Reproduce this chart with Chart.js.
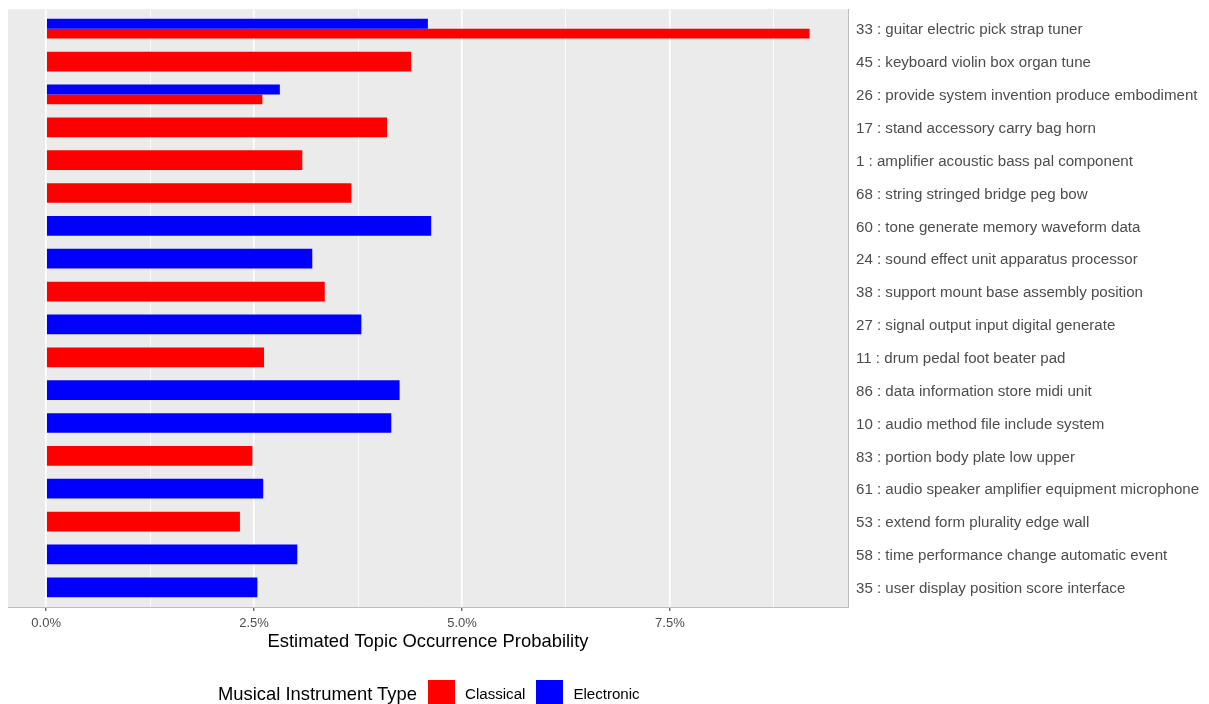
<!DOCTYPE html>
<html>
<head>
<meta charset="utf-8">
<script src="https://cdn.jsdelivr.net/npm/chart.js@4.4.1/dist/chart.umd.min.js"></script>
<style>
  html, body { margin: 0; padding: 0; background: #fff; }
  #wrap { position: relative; width: 1209px; height: 704px; overflow: hidden; }
  #legend {
    position: absolute; left: 218px; top: 680px; height: 27px;
    display: flex; align-items: center;
    font-family: "Liberation Sans", Arial, sans-serif; white-space: nowrap;
  }
  #legend .title { font-size: 18.4px; color: #000; margin-right: 11px; }
  #legend .key { width: 27px; height: 27px; margin-right: 10px; }
  #legend .label { font-size: 15.1px; color: #000; margin-right: 11px; }
</style>
</head>
<body>
<div id="wrap">
  <canvas id="chart" width="1209" height="704"></canvas>
  <div id="legend"></div>
</div>
<script>
const topics = [
  "33 : guitar electric pick strap tuner",
  "45 : keyboard violin box organ tune",
  "26 : provide system invention produce embodiment",
  "17 : stand accessory carry bag horn",
  "1 : amplifier acoustic bass pal component",
  "68 : string stringed bridge peg bow",
  "60 : tone generate memory waveform data",
  "24 : sound effect unit apparatus processor",
  "38 : support mount base assembly position",
  "27 : signal output input digital generate",
  "11 : drum pedal foot beater pad",
  "86 : data information store midi unit",
  "10 : audio method file include system",
  "83 : portion body plate low upper",
  "61 : audio speaker amplifier equipment microphone",
  "53 : extend form plurality edge wall",
  "58 : time performance change automatic event",
  "35 : user display position score interface"
];

// probabilities in percent, null where the topic has no bar for that type
const classical = [9.18, 4.39, 2.60, 4.10, 3.08, 3.67, null, null, 3.35, null, 2.62, null, null, 2.48, null, 2.33, null, null];
const electronic = [4.59, null, 2.81, null, null, null, 4.63, 3.20, null, 3.79, null, 4.25, 4.15, null, 2.61, null, 3.02, 2.54];

const seriesNames = ["Classical", "Electronic"];
const seriesColors = ["#ff0000", "#0000ff"];
const legendTitle = "Musical Instrument Type";
const xTitle = "Estimated Topic Occurrence Probability";
const xTicks = [0, 1.25, 2.5, 3.75, 5, 6.25, 7.5, 8.75];
const xMin = -0.459;
const xMax = 9.642;

const isMajor = (v) => Math.abs(v / 2.5 - Math.round(v / 2.5)) < 1e-6;

Chart.defaults.font.family = '"Liberation Sans", Arial, sans-serif';

const panelBackground = {
  id: "panelBackground",
  beforeDraw(chart) {
    const { ctx, chartArea: a } = chart;
    ctx.save();
    ctx.fillStyle = "#ebebeb";
    ctx.fillRect(a.left, a.top, a.right - a.left, a.bottom - a.top);
    ctx.restore();
  }
};

new Chart(document.getElementById("chart").getContext("2d"), {
  type: "bar",
  data: {
    labels: topics,
    datasets: [
      // electronic first so it sits on top inside a dodged pair
      { label: seriesNames[1], data: electronic, backgroundColor: seriesColors[1] },
      { label: seriesNames[0], data: classical, backgroundColor: seriesColors[0] }
    ]
  },
  options: {
    indexAxis: "y",
    responsive: false,
    animation: false,
    devicePixelRatio: 1,
    layout: { padding: { left: 8, top: 9, right: 0, bottom: 0 } },
    datasets: {
      bar: { categoryPercentage: 0.6, barPercentage: 1.0, skipNull: true, borderWidth: 0 }
    },
    plugins: {
      legend: { display: false },
      tooltip: { enabled: false }
    },
    scales: {
      x: {
        type: "linear",
        min: xMin,
        max: xMax,
        afterBuildTicks: (scale) => { scale.ticks = xTicks.map((v) => ({ value: v })); },
        afterFit: (scale) => { scale.height = 97; },
        ticks: {
          autoSkip: false,
          maxRotation: 0,
          padding: 5,
          color: "#4d4d4d",
          font: { size: 13 },
          callback: (value) => (isMajor(value) ? value.toFixed(1) + "%" : "")
        },
        grid: {
          color: "#ffffff",
          lineWidth: (ctx) => (ctx.tick && isMajor(ctx.tick.value) ? 1.6 : 0.8),
          tickLength: 4,
          tickWidth: 1,
          tickColor: (ctx) => (ctx.tick && isMajor(ctx.tick.value) ? "#333333" : "rgba(0,0,0,0)")
        },
        border: { display: true, color: "#bdbdbd", width: 1 },
        title: {
          display: true,
          text: xTitle,
          color: "#000000",
          font: { size: 18.4 },
          padding: { top: 0, bottom: 51 }
        }
      },
      y: {
        type: "category",
        position: "right",
        offset: true,
        // ggplot pads a discrete axis by 0.6 of a step, Chart.js by 0.5
        afterBuildTicks: (scale) => { scale._startValue -= 0.1; scale._valueRange += 0.2; },
        afterFit: (scale) => {
          scale.width = 361;
          scale.paddingTop = 0;
          scale.paddingBottom = 0;
        },
        ticks: { color: "#4d4d4d", font: { size: 15.1 }, padding: 8, labelOffset: 1.5, autoSkip: false },
        grid: { display: false, drawTicks: false },
        border: { display: true, color: "#bdbdbd", width: 1 }
      }
    }
  },
  plugins: [panelBackground]
});

const legend = document.getElementById("legend");
legend.innerHTML = `<span class="title">${legendTitle}</span>` + seriesNames
  .map((name, i) => `<span class="key" style="background:${seriesColors[i]}"></span><span class="label">${name}</span>`)
  .join("");
</script>
</body>
</html>
